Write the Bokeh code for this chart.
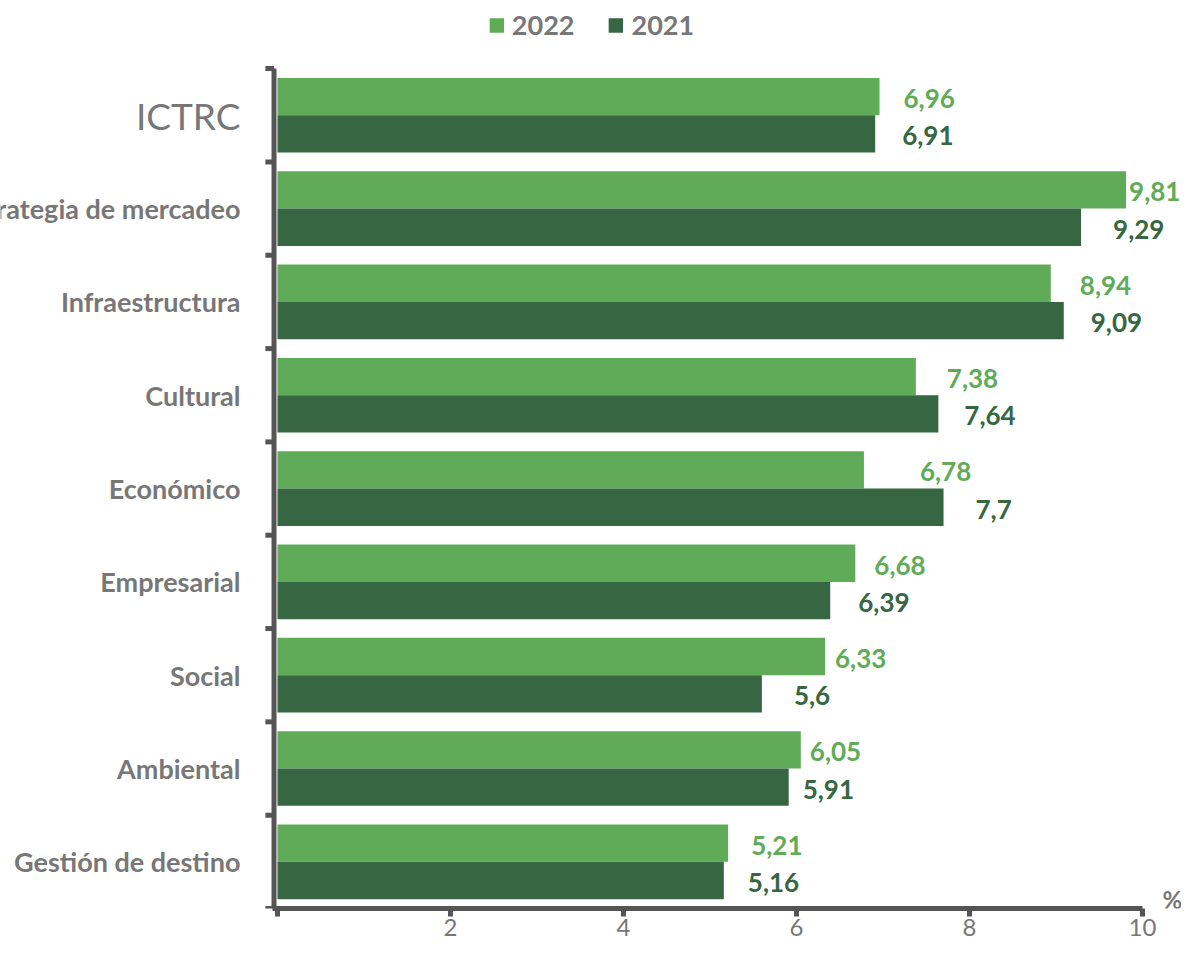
from bokeh.plotting import figure
from bokeh.models import (ColumnDataSource, Range1d, FixedTicker, Legend, LegendItem,
                          CDSView, IndexFilter)
from bokeh.core.properties import value
from bokeh.transform import dodge
from bokeh.embed import file_html
from bokeh.resources import INLINE

categories = ["ICTRC", "Estrategia de mercadeo", "Infraestructura", "Cultural",
              "Económico", "Empresarial", "Social", "Ambiental", "Gestión de destino"]
v2022 = [6.96, 9.81, 8.94, 7.38, 6.78, 6.68, 6.33, 6.05, 5.21]
v2021 = [6.91, 9.29, 9.09, 7.64, 7.7, 6.39, 5.6, 5.91, 5.16]
x_ticks = [0, 2, 4, 6, 8, 10]
series_names = ["2022", "2021"]

# label placement (pixels right of bar end), style only
dx2022 = [24, 3, 29, 31, 56, 19, 10, 9, 23]
dx2021 = [27, 32, 27, 26, 32, 28, 32, 14, 24]

C_LIGHT = "#60ab57"
C_DARK = "#366642"
GRAY = "#777777"
AXIS = "#555555"
FONT = "Lato"

n = len(categories)
pos = [n - 0.5 - i for i in range(n)]

def fmt(v):
    return ("%g" % v).replace(".", ",")

src = ColumnDataSource(dict(
    cat=categories, y=pos, v2022=v2022, v2021=v2021,
    t2022=[fmt(v) for v in v2022], t2021=[fmt(v) for v in v2021],
    dx2022=dx2022, dx2021=dx2021,
))

p = figure(width=1181, height=938, output_backend="svg", toolbar_location=None,
           x_range=Range1d(-3.202, 10.451), y_range=Range1d(0, 9.73),
           min_border_left=0, min_border_right=0, min_border_top=0,
           min_border_bottom=0)
p.outline_line_color = None
p.grid.grid_line_color = None
p.yaxis.visible = False

r1 = p.hbar(y=dodge("y", 0.2), right="v2022", left=0, height=0.4, source=src,
            fill_color=C_LIGHT, line_color=None)
r2 = p.hbar(y=dodge("y", -0.2), right="v2021", left=0, height=0.4, source=src,
            fill_color=C_DARK, line_color=None)

# value labels
p.text(x="v2022", y=dodge("y", 0.2), text="t2022", source=src, x_offset="dx2022",
       y_offset=2, text_baseline="middle", text_align="left",
       text_font=value(FONT), text_font_style="bold", text_font_size="26px",
       text_color=C_LIGHT)
p.text(x="v2021", y=dodge("y", -0.2), text="t2021", source=src, x_offset="dx2021",
       y_offset=2, text_baseline="middle", text_align="left",
       text_font=value(FONT), text_font_style="bold", text_font_size="26px",
       text_color=C_DARK)

# category labels
first = CDSView(filter=IndexFilter([0]))
rest = CDSView(filter=IndexFilter(list(range(1, n))))
p.text(x=0, y="y", text="cat", source=src, view=first, x_offset=-37,
       text_align="right", text_baseline="middle", text_font=value(FONT),
       text_font_style="normal", text_font_size="37px", text_color=GRAY)
p.text(x=0, y="y", text="cat", source=src, view=rest, x_offset=-37,
       text_align="right", text_baseline="middle", text_font=value(FONT),
       text_font_style="bold", text_font_size="27px", text_color=GRAY)

# vertical axis line and category boundary ticks
axis_x = -0.04
bounds = list(range(n + 1))
p.segment(x0=[axis_x], y0=[0], x1=[axis_x], y1=[n], line_color=AXIS, line_width=5)
p.segment(x0=[axis_x] * len(bounds), y0=bounds, x1=[axis_x - 0.1] * len(bounds),
          y1=bounds, line_color=AXIS, line_width=5)

# x axis
xa = p.xaxis[0]
xa.ticker = FixedTicker(ticks=x_ticks)
xa.major_label_overrides = {0: ""}
xa.bounds = (axis_x - 0.02, 10)
xa.axis_line_color = AXIS
xa.axis_line_width = 5
xa.major_tick_line_color = AXIS
xa.major_tick_line_width = 5
xa.major_tick_out = 8
xa.major_tick_in = 0
xa.minor_tick_line_color = None
xa.major_label_standoff = 2
xa.major_label_text_font = FONT
xa.major_label_text_font_size = "24px"
xa.major_label_text_color = GRAY

p.text(x=[10], y=[0], text=["%"], x_offset=20, y_offset=-9, text_baseline="middle",
       text_align="left", text_font=value(FONT), text_font_style="bold",
       text_font_size="24px", text_color=GRAY)

legend = Legend(items=[LegendItem(label=series_names[0], renderers=[r1]),
                       LegendItem(label=series_names[1], renderers=[r2])],
                orientation="horizontal", location="top_center",
                glyph_width=18, glyph_height=18, label_standoff=7, spacing=32,
                padding=0, margin=8, border_line_color=None,
                background_fill_alpha=0,
                label_text_font=FONT, label_text_font_style="bold",
                label_text_font_size="27px", label_text_color=GRAY)
p.add_layout(legend, "center")

open("out.html", "w").write(file_html(p, INLINE))
